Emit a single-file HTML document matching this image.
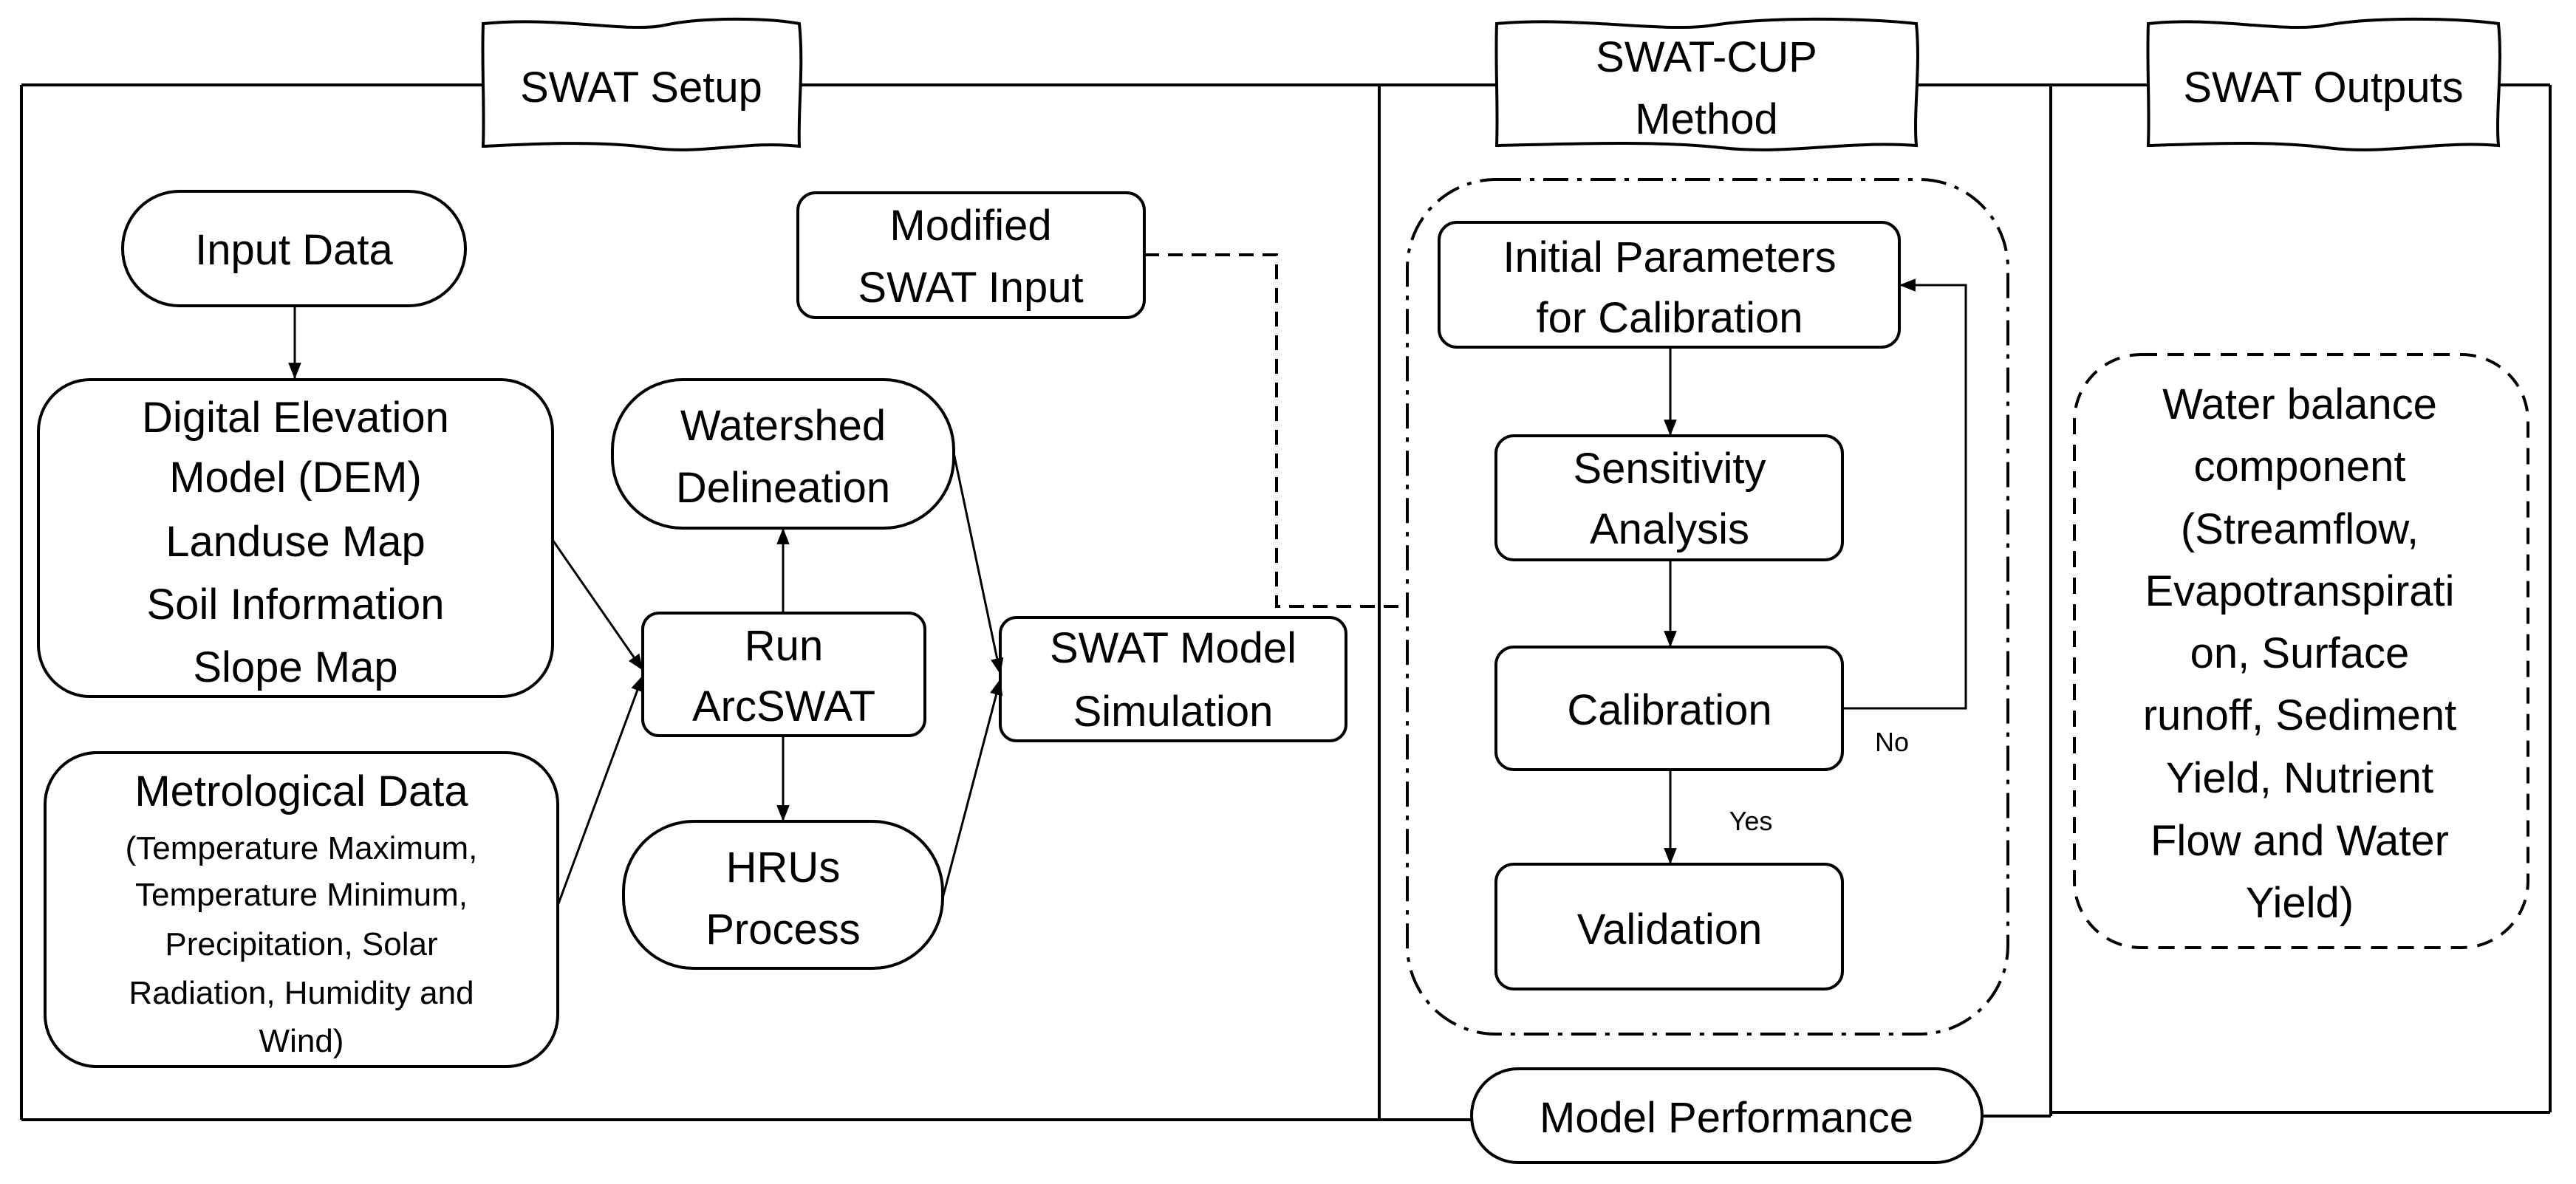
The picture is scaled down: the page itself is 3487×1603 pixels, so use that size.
<!DOCTYPE html>
<html><head><meta charset="utf-8"><style>
html,body{margin:0;padding:0;background:#fff;}
svg{display:block;}
text{font-family:"Liberation Sans",Arial,sans-serif;fill:#000;}
</style></head><body>
<svg width="3487" height="1603" viewBox="0 0 3487 1603" xmlns="http://www.w3.org/2000/svg">
<defs>
<marker id="ar" viewBox="0 0 20 20" refX="19" refY="10" markerWidth="22" markerHeight="22" orient="auto" markerUnits="userSpaceOnUse"><path d="M0,2 L20,10 L0,18 z" fill="#000"/></marker>
</defs>
<rect width="3487" height="1603" fill="#fff"/>
<g fill="none" stroke="#000" stroke-width="4">
<line x1="29" y1="115" x2="3452" y2="115"/>
<line x1="29" y1="115" x2="29" y2="1516"/>
<line x1="29" y1="1516" x2="2000" y2="1516"/>
<line x1="2670" y1="1511" x2="2776" y2="1511"/>
<line x1="1867" y1="115" x2="1867" y2="1516"/>
<line x1="2776" y1="115" x2="2776" y2="1511"/>
<line x1="2776" y1="1506" x2="3452" y2="1506"/>
<line x1="3452" y1="115" x2="3452" y2="1506"/>
</g>
<g fill="#fff" stroke="#000" stroke-width="4">
<path d="M654,32 C760,22 850,45 900,34 S1040,24 1082,32 C1088,90 1080,150 1082,198 C1010,190 950,210 880,200 S720,195 654,198 C656,140 652,90 654,32 z"/>
<path d="M2026,32 C2140,22 2250,45 2320,34 S2520,24 2594,32 C2600,90 2590,150 2594,197 C2500,190 2420,210 2330,200 S2120,195 2026,197 C2028,140 2024,90 2026,32 z"/>
<path d="M2908,32 C3000,22 3090,45 3150,34 S3320,24 3382,32 C3388,90 3378,150 3382,197 C3300,190 3230,210 3150,200 S2980,195 2908,197 C2910,140 2906,90 2908,32 z"/>
</g>
<g font-size="58" text-anchor="middle">
<text x="868" y="138">SWAT Setup</text>
<text x="2310" y="97">SWAT-CUP</text>
<text x="2310" y="181">Method</text>
<text x="3145" y="138">SWAT Outputs</text>
</g>
<g fill="#fff" stroke="#000" stroke-width="4">
<rect x="166" y="259" width="464" height="155" rx="77"/>
<rect x="52" y="514" width="696" height="429" rx="70"/>
<rect x="61" y="1019" width="694" height="425" rx="70"/>
<rect x="829" y="514" width="462" height="201" rx="95"/>
<rect x="870" y="830" width="382" height="166" rx="22"/>
<rect x="844" y="1112" width="432" height="199" rx="95"/>
<rect x="1354" y="836" width="468" height="167" rx="22"/>
<rect x="1080" y="261" width="469" height="169" rx="24"/>
<rect x="1905" y="243" width="813" height="1157" rx="120" stroke-dasharray="34 12 6 12"/>
<rect x="1948" y="301" width="623" height="169" rx="24"/>
<rect x="2025" y="590" width="469" height="168" rx="24"/>
<rect x="2025" y="876" width="469" height="166" rx="24"/>
<rect x="2025" y="1170" width="469" height="169" rx="24"/>
<rect x="1992" y="1447" width="691" height="127" rx="63"/>
<rect x="2808" y="480" width="614" height="803" rx="90" stroke-dasharray="22 14"/>
</g>
<g fill="none" stroke="#000" stroke-width="3" marker-end="url(#ar)">
<line x1="399" y1="414" x2="399" y2="512"/>
<line x1="748" y1="731" x2="870" y2="907"/>
<line x1="755" y1="1226" x2="870" y2="915"/>
<line x1="1060" y1="830" x2="1060" y2="716"/>
<line x1="1060" y1="996" x2="1060" y2="1111"/>
<line x1="1291" y1="613" x2="1354" y2="912"/>
<line x1="1276" y1="1216" x2="1354" y2="920"/>
<line x1="2261" y1="470" x2="2261" y2="589"/>
<line x1="2261" y1="758" x2="2261" y2="875"/>
<line x1="2261" y1="1042" x2="2261" y2="1169"/>
<polyline points="2494,959 2661,959 2661,386 2572,386"/>
</g>
<polyline fill="none" stroke="#000" stroke-width="4" stroke-dasharray="20 12" points="1549,345 1728,345 1728,821 1905,821"/>
<g font-size="58" text-anchor="middle">
<text x="398" y="358">Input Data</text>
<text x="400" y="585">Digital Elevation</text>
<text x="400" y="666">Model (DEM)</text>
<text x="400" y="753">Landuse Map</text>
<text x="400" y="838">Soil Information</text>
<text x="400" y="923">Slope Map</text>
<text x="408" y="1091">Metrological Data</text>
<text x="1060" y="596">Watershed</text>
<text x="1060" y="680">Delineation</text>
<text x="1061" y="894">Run</text>
<text x="1061" y="976">ArcSWAT</text>
<text x="1060" y="1194">HRUs</text>
<text x="1060" y="1278">Process</text>
<text x="1588" y="897">SWAT Model</text>
<text x="1588" y="983">Simulation</text>
<text x="1314" y="325">Modified</text>
<text x="1314" y="409">SWAT Input</text>
<text x="2260" y="368">Initial Parameters</text>
<text x="2260" y="450">for Calibration</text>
<text x="2260" y="654">Sensitivity</text>
<text x="2260" y="736">Analysis</text>
<text x="2260" y="981">Calibration</text>
<text x="2260" y="1278">Validation</text>
<text x="2337" y="1533">Model Performance</text>
<text x="3113" y="567">Water balance</text>
<text x="3113" y="651">component</text>
<text x="3113" y="736">(Streamflow,</text>
<text x="3113" y="820">Evapotranspirati</text>
<text x="3113" y="904">on, Surface</text>
<text x="3113" y="988">runoff, Sediment</text>
<text x="3113" y="1073">Yield, Nutrient</text>
<text x="3113" y="1158">Flow and Water</text>
<text x="3113" y="1242">Yield)</text>
</g>
<g font-size="44" text-anchor="middle">
<text x="408" y="1163">(Temperature Maximum,</text>
<text x="408" y="1226">Temperature Minimum,</text>
<text x="408" y="1293">Precipitation, Solar</text>
<text x="408" y="1359">Radiation, Humidity and</text>
<text x="408" y="1424">Wind)</text>
</g>
<g font-size="36" text-anchor="middle">
<text x="2561" y="1017">No</text>
<text x="2370" y="1124">Yes</text>
</g>
</svg>
</body></html>
